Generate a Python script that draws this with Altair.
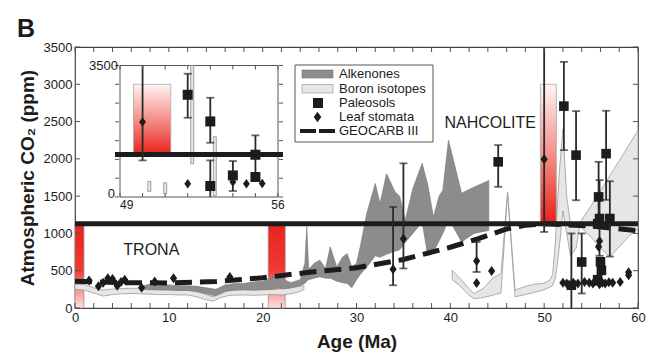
import altair as alt
import pandas as pd

W, H = 563, 261
FONT = "Liberation Sans"
INK = "#1c1c1c"

# ---------------- data ----------------
x_tick_vals = list(range(0, 61, 2))
y_tick_vals = list(range(0, 3501, 500))
x_label_vals = [0, 10, 20, 30, 40, 50, 60]
y_label_vals = [0, 500, 1000, 1500, 2000, 2500, 3000, 3500]

threshold = [1130]

# red boxes
trona_a0 = [0.0, 20.6]
trona_a1 = [0.95, 22.4]
trona_lo = [0, 0]
trona_hi = [1130, 1130]
nah_a0 = [49.6]
nah_a1 = [51.3]
nah_lo = [1130]
nah_hi = [3000]

# alkenones band
alk_age = [7.0, 8.0, 9.0, 10.0, 11.0, 12.0, 13.0, 14.0, 15.0, 16.0, 17.0, 18.0, 19.0, 20.0,
           21.0, 21.6, 22.3, 23.0, 24.0, 24.5, 24.7, 24.9, 25.5, 26.1, 26.7, 27.2, 27.9, 28.5,
           29.0, 29.5, 30.0, 30.4, 31.1, 32.0, 32.5, 33.2, 34.1, 34.6, 35.2, 36.0, 37.0, 37.6,
           38.2, 38.8, 39.2, 39.8, 40.3, 41.2, 42.5, 44.1]
alk_lo = [250, 245, 240, 240, 235, 235, 220, 190, 160, 220, 240, 245, 240, 245,
          250, 270, 260, 270, 300, 330, 360, 380, 400, 420, 400, 400, 360, 340,
          330, 270, 380, 450, 550, 700, 680, 720, 760, 780, 880, 1000, 1150, 700,
          750, 900, 1000, 1180, 1090, 885, 1000, 1040]
alk_hi = [290, 320, 300, 310, 300, 300, 290, 270, 250, 310, 330, 330, 350, 360,
          400, 470, 380, 340, 380, 600, 1090, 520, 600, 640, 530, 820, 550, 680,
          730, 550, 600, 820, 1270, 1670, 1400, 1800, 1560, 1500, 1180, 1600, 1940, 1650,
          1220, 1500, 1580, 2250, 2000, 1540, 1620, 1710]

# boron isotopes bands (two pieces)
bor_seg = ["a"] * 26 + ["b"] * 27
bor_age = [0, 1, 2, 3, 4, 5, 6, 7, 8, 9, 10, 11, 12, 13, 14, 14.7, 15.5, 16.5, 18, 19, 20, 21, 22, 23, 24, 24.4,
           40.2, 41, 42, 42.5, 43.5, 44.5, 45.4, 46.1, 46.9, 48, 49, 49.9, 50.6, 50.9, 51.2, 51.6, 52.0, 52.4,
           52.8, 53.4, 53.8, 55.0, 56.0, 57.0, 58.0, 59.0, 60.0]
bor_lo = [250, 240, 200, 160, 180, 190, 195, 190, 185, 180, 180, 175, 175, 150, 110, 90, 140, 170, 175, 170, 175, 180, 175, 190, 220, 250,
          380, 300, 170, 125, 140, 170, 200, 1540, 150, 180, 210, 240, 280, 300, 400, 800, 1300, 1000,
          700, 800, 1100, 950, 800, 685, 820, 960, 1060]
bor_hi = [320, 315, 270, 240, 255, 260, 265, 265, 255, 250, 245, 240, 240, 220, 180, 150, 210, 240, 245, 240, 245, 250, 255, 270, 290, 300,
          505, 400, 260, 193, 260, 400, 460, 1557, 240, 290, 320, 330, 372, 450, 900, 1800, 2400, 1500,
          1130, 1130, 1140, 1370, 1570, 1775, 1975, 2180, 2380]

# GEOCARB III
geo_age = [0, 5, 10, 15, 20, 25, 30, 35, 40, 43, 46, 48, 50, 55, 60]
geo_co2 = [360, 340, 335, 355, 405, 480, 540, 650, 815, 930, 1060, 1110, 1130, 1100, 1035]

# paleosols
pal_age = [45.1, 52.1, 53.4, 52.9, 54.0, 55.8, 55.9, 55.7, 56.0, 56.1, 55.7, 56.6, 57.0]
pal_co2 = [1960, 2707, 2050, 305, 617, 1490, 1200, 1130, 620, 505, 380, 2070, 1200]

# leaf stomata
sto_age = [1.5, 2.5, 3.0, 3.5, 4.0, 4.5, 4.9, 5.3, 7.1, 8.5, 10.5, 16.5,
           33.9, 35.0, 42.8, 42.8, 44.4, 50.0,
           52.0, 52.4, 53.1, 53.6, 54.3, 54.8, 55.2, 55.5, 55.9, 56.2, 56.5, 56.9, 57.3, 58.1, 59.0, 59.0,
           55.8, 55.9]
sto_co2 = [370, 290, 340, 400, 390, 300, 350, 380, 270, 355, 400, 415,
           520, 930, 630, 335, 497, 1995,
           340, 330, 340, 330, 350, 340, 330, 360, 320, 340, 330, 345, 340, 350, 440, 480,
           820, 900]

# error bars (age, low, high)
err_age = [45.1, 52.1, 53.4, 52.9, 54.0, 55.8, 55.9, 56.6, 57.0, 33.9, 35.0, 42.8, 50.0]
err_lo = [1625, 2117, 1445, 0, 195, 1130, 700, 1450, 690, 305, 530, 483, 1020]
err_hi = [2185, 3300, 2640, 1000, 1000, 1960, 1715, 2645, 1700, 1355, 1940, 885, 3500]

# labels
trona_pos = (5.15, 784)
nah_pos = (39.37, 2475)

# ---------- inset data ----------
ins_x_ticks = [49, 50, 51, 52, 53, 54, 55, 56]
ins_y_ticks = [0, 500, 1000, 1500, 2000, 2500, 3000, 3500]
ins_red_a0 = [49.6]
ins_red_a1 = [51.25]
ins_red_lo = [1130]
ins_red_hi = [3000]
ins_bor_age = [50.3, 51.0, 52.2, 53.2]
ins_bor_lo = [150, 90, 886, 35]
ins_bor_hi = [415, 380, 3500, 1604]
ins_pal_age = [52.0, 53.0, 53.0, 54.0, 55.0, 55.0]
ins_pal_co2 = [2721, 2011, 293, 575, 1125, 532]
ins_sto_age = [50.0, 52.0, 54.0, 54.6, 55.3]
ins_sto_co2 = [1995, 354, 400, 354, 360]
ins_err_age = [50.0, 52.0, 53.0, 53.0, 54.0, 55.0]
ins_err_lo = [974, 2109, 1444, 0, 160, 600]
ins_err_hi = [3500, 3280, 2641, 974, 957, 1640]

legend_labels = ["Alkenones", "Boron isotopes", "Paleosols", "Leaf stomata", "GEOCARB III"]

# ---------------- scales / axes ----------------
xs = alt.Scale(domain=[0, 60], nice=False, zero=False)
ys = alt.Scale(domain=[0, 3500], nice=False, zero=False)
ixs = alt.Scale(domain=[49, 56], range=[40, 208], nice=False, zero=False)
iys = alt.Scale(domain=[0, 3500], range=[150, 18.5], nice=False, zero=False)

AX = alt.Axis(
    orient="bottom", values=x_label_vals, format="d", ticks=False, domain=False, grid=False,
    labelFlush=False, labelFont=FONT, labelFontSize=13, labelColor=INK, labelPadding=3,
    title="Age (Ma)", titleFont=FONT, titleFontSize=19, titleFontWeight="bold",
    titleColor=INK, titlePadding=8)
AY = alt.Axis(
    orient="left", values=y_label_vals, format="d", ticks=False, domain=False, grid=False,
    labelFlush=False, labelFont=FONT, labelFontSize=13, labelColor=INK, labelPadding=3,
    title="Atmospheric CO₂ (ppm)", titleFont=FONT, titleFontSize=19,
    titleFontWeight="bold", titleColor=INK, titlePadding=6)

DIAMOND = "M0,-1L0.72,0L0,1L-0.72,0Z"


def grad(c_top, c_mid, c_bot, mid=0.55):
    return alt.LinearGradient(
        gradient="linear", x1=0, x2=0, y1=0, y2=1,
        stops=[alt.GradientStop(offset=0, color=c_top),
               alt.GradientStop(offset=mid, color=c_mid),
               alt.GradientStop(offset=1, color=c_bot)])


def X(f):
    return alt.X(f, type="quantitative", scale=xs, axis=AX)


def Y(f):
    return alt.Y(f, type="quantitative", scale=ys, axis=AY)


def IX(f):
    return alt.X(f, type="quantitative", scale=ixs, axis=None)


def IY(f):
    return alt.Y(f, type="quantitative", scale=iys, axis=None)


# ---------------- main layers ----------------
df_trona = pd.DataFrame({"a0": trona_a0, "a1": trona_a1, "lo": trona_lo, "hi": trona_hi})
trona = alt.Chart(df_trona).mark_rect(
    fill=grad("#e8231d", "#ee3b33", "#fbe3e3"), stroke="#9a8080", strokeWidth=0.7
).encode(x=X("a0"), x2="a1:Q", y=Y("lo"), y2="hi:Q")

df_nah = pd.DataFrame({"a0": nah_a0, "a1": nah_a1, "lo": nah_lo, "hi": nah_hi})
nah = alt.Chart(df_nah).mark_rect(
    fill=grad("#fff4f4", "#f27a72", "#e8201a", mid=0.6), stroke="#aaaaaa", strokeWidth=0.8
).encode(x=X("a0"), x2="a1:Q", y=Y("lo"), y2="hi:Q")

df_bor = pd.DataFrame({"seg": bor_seg, "a": bor_age, "lo": bor_lo, "hi": bor_hi})
boron = alt.Chart(df_bor).mark_area(
    fill="#e6e6e6", stroke="#9c9c9c", strokeWidth=0.8, opacity=1
).encode(x=X("a"), y=Y("lo"), y2="hi:Q", detail="seg:N")

df_alk = pd.DataFrame({"a": alk_age, "lo": alk_lo, "hi": alk_hi})
alk = alt.Chart(df_alk).mark_area(
    fill="#8c8c8c", stroke="#747474", strokeWidth=0.6, opacity=1
).encode(x=X("a"), y=Y("lo"), y2="hi:Q")

df_thr = pd.DataFrame({"v": threshold})
thr = alt.Chart(df_thr).mark_rule(color=INK, strokeWidth=5).encode(y=Y("v"))

df_geo = pd.DataFrame({"a": geo_age, "v": geo_co2})
geo = alt.Chart(df_geo).mark_line(
    color=INK, strokeWidth=5, strokeDash=[17, 8]
).encode(x=X("a"), y=Y("v"))

df_err = pd.DataFrame({"a": err_age, "lo": err_lo, "hi": err_hi})
err = alt.Chart(df_err).mark_rule(color="#2a2a2a", strokeWidth=1.8).encode(
    x=X("a"), y=Y("lo"), y2="hi:Q")
caps_a = [a for a, v in zip(err_age + err_age, err_lo + err_hi) if 0 < v < 3500]
caps_v = [v for v in err_lo + err_hi if 0 < v < 3500]
df_caps = pd.DataFrame({"a": caps_a, "v": caps_v})
caps = alt.Chart(df_caps).mark_tick(
    orient="horizontal", size=8, thickness=1.8, color="#2a2a2a"
).encode(x=X("a"), y=Y("v"))

df_pal = pd.DataFrame({"a": pal_age, "v": pal_co2})
pal = alt.Chart(df_pal).mark_square(size=92, color=INK, opacity=1).encode(x=X("a"), y=Y("v"))

df_sto = pd.DataFrame({"a": sto_age, "v": sto_co2})
sto = alt.Chart(df_sto).mark_point(
    shape=DIAMOND, size=100, filled=True, color=INK, opacity=1
).encode(x=X("a"), y=Y("v"))

df_lbl = pd.DataFrame({"a": [trona_pos[0], nah_pos[0]], "v": [trona_pos[1], nah_pos[1]],
                       "t": ["TRONA", "NAHCOLITE"]})
lbl = alt.Chart(df_lbl).mark_text(
    font=FONT, fontSize=16, align="left", baseline="middle", color=INK
).encode(x=X("a"), y=Y("v"), text="t:N")

# inward ticks on the four sides
df_xt = pd.DataFrame({"v": x_tick_vals})
df_yt = pd.DataFrame({"v": y_tick_vals})
tick_style = dict(color="#555555", strokeWidth=1)
xt_b = alt.Chart(df_xt).mark_rule(**tick_style).encode(x=X("v"), y=alt.value(H), y2=alt.value(H - 5))
xt_t = alt.Chart(df_xt).mark_rule(**tick_style).encode(x=X("v"), y=alt.value(0), y2=alt.value(5))
yt_l = alt.Chart(df_yt).mark_rule(**tick_style).encode(y=Y("v"), x=alt.value(0), x2=alt.value(5))
yt_r = alt.Chart(df_yt).mark_rule(**tick_style).encode(y=Y("v"), x=alt.value(W), x2=alt.value(W - 5))

main = alt.layer(trona, nah, boron, alk, thr, geo, err, caps, pal, sto, lbl,
                 xt_b, xt_t, yt_l, yt_r)

# ---------------- inset ----------------
df_iframe = pd.DataFrame({"a0": [49], "a1": [56], "lo": [0], "hi": [3500]})
iframe = alt.Chart(df_iframe).mark_rect(fill="white", stroke="#555555", strokeWidth=1).encode(
    x=IX("a0"), x2="a1:Q", y=IY("lo"), y2="hi:Q")

df_ired = pd.DataFrame({"a0": ins_red_a0, "a1": ins_red_a1, "lo": ins_red_lo, "hi": ins_red_hi})
ired = alt.Chart(df_ired).mark_rect(
    fill=grad("#fff4f4", "#f27a72", "#e8201a", mid=0.6), stroke="#aaaaaa", strokeWidth=0.8
).encode(x=IX("a0"), x2="a1:Q", y=IY("lo"), y2="hi:Q")

df_ibor = pd.DataFrame({"a": ins_bor_age, "lo": ins_bor_lo, "hi": ins_bor_hi})
ibor = alt.Chart(df_ibor).mark_bar(size=3, fill="#e8e8e8", stroke="#8a8a8a", strokeWidth=0.8).encode(
    x=IX("a"), y=IY("lo"), y2="hi:Q")

ithr = alt.Chart(df_thr).mark_rule(color=INK, strokeWidth=5).encode(
    y=IY("v"), x=alt.value(40), x2=alt.value(208))

df_ierr = pd.DataFrame({"a": ins_err_age, "lo": ins_err_lo, "hi": ins_err_hi})
ierr = alt.Chart(df_ierr).mark_rule(color="#2a2a2a", strokeWidth=1.8).encode(
    x=IX("a"), y=IY("lo"), y2="hi:Q")
icaps_a = [a for a, v in zip(ins_err_age + ins_err_age, ins_err_lo + ins_err_hi) if 0 < v < 3500]
icaps_v = [v for v in ins_err_lo + ins_err_hi if 0 < v < 3500]
df_icaps = pd.DataFrame({"a": icaps_a, "v": icaps_v})
icaps = alt.Chart(df_icaps).mark_tick(
    orient="horizontal", size=8, thickness=1.8, color="#2a2a2a"
).encode(x=IX("a"), y=IY("v"))

df_ipal = pd.DataFrame({"a": ins_pal_age, "v": ins_pal_co2})
ipal = alt.Chart(df_ipal).mark_square(size=100, color=INK, opacity=1).encode(x=IX("a"), y=IY("v"))
df_isto = pd.DataFrame({"a": ins_sto_age, "v": ins_sto_co2})
isto = alt.Chart(df_isto).mark_point(
    shape=DIAMOND, size=90, filled=True, color=INK, opacity=1
).encode(x=IX("a"), y=IY("v"))

df_ixt = pd.DataFrame({"v": ins_x_ticks})
df_iyt = pd.DataFrame({"v": ins_y_ticks})
ixt_b = alt.Chart(df_ixt).mark_rule(**tick_style).encode(x=IX("v"), y=alt.value(150), y2=alt.value(146))
ixt_t = alt.Chart(df_ixt).mark_rule(**tick_style).encode(x=IX("v"), y=alt.value(18.5), y2=alt.value(22.5))
iyt_l = alt.Chart(df_iyt).mark_rule(**tick_style).encode(y=IY("v"), x=alt.value(40), x2=alt.value(44))
iyt_r = alt.Chart(df_iyt).mark_rule(**tick_style).encode(y=IY("v"), x=alt.value(208), x2=alt.value(204))

df_iyl = pd.DataFrame({"a": [49, 49], "v": [0, 3500], "t": ["0", "3500"]})
iyl0 = alt.Chart(df_iyl.iloc[[0]]).mark_text(
    font=FONT, fontSize=13, align="right", baseline="middle", dx=-5, dy=-3, color=INK
).encode(x=IX("a"), y=IY("v"), text="t:N")
iyl1 = alt.Chart(df_iyl.iloc[[1]]).mark_text(
    font=FONT, fontSize=13, align="right", baseline="middle", dx=-2, color=INK
).encode(x=IX("a"), y=IY("v"), text="t:N")
df_ixl = pd.DataFrame({"a": [49, 56], "v": [0, 0], "t": ["49", "56"]})
ixl49 = alt.Chart(df_ixl.iloc[[0]]).mark_text(
    font=FONT, fontSize=12, align="left", baseline="top", dx=0, dy=3, color=INK
).encode(x=IX("a"), y=IY("v"), text="t:N")
ixl56 = alt.Chart(df_ixl.iloc[[1]]).mark_text(
    font=FONT, fontSize=12, align="center", baseline="top", dy=3, color=INK
).encode(x=IX("a"), y=IY("v"), text="t:N")

inset = alt.layer(iframe, ired, ibor, ithr, ierr, icaps, ipal, isto,
                  ixt_b, ixt_t, iyt_l, iyt_r, iyl0, iyl1, ixl49, ixl56)

# ---------------- legend (drawn in plot pixels) ----------------
one = pd.DataFrame({"k": [0]})
leg_box = alt.Chart(one).mark_rect(fill="white", stroke="#555555", strokeWidth=1).encode(
    x=alt.value(220), x2=alt.value(358), y=alt.value(18), y2=alt.value(95))
leg_alk = alt.Chart(one).mark_rect(fill="#8c8c8c", stroke="#747474", strokeWidth=0.6).encode(
    x=alt.value(227), x2=alt.value(258), y=alt.value(23), y2=alt.value(31))
leg_bor = alt.Chart(one).mark_rect(fill="#e6e6e6", stroke="#a8a8a8", strokeWidth=0.8).encode(
    x=alt.value(227), x2=alt.value(258), y=alt.value(37.5), y2=alt.value(46))
leg_pal = alt.Chart(one).mark_square(size=100, color=INK, opacity=1).encode(
    x=alt.value(243), y=alt.value(56))
leg_sto = alt.Chart(one).mark_point(shape=DIAMOND, size=110, filled=True, color=INK, opacity=1).encode(
    x=alt.value(242.5), y=alt.value(70))
leg_geo = alt.Chart(one).mark_rule(color=INK, strokeWidth=4, strokeDash=[16, 3]).encode(
    x=alt.value(225), x2=alt.value(260), y=alt.value(84))
leg_y = [27, 41.5, 56, 70, 84]
leg_txt = [alt.Chart(one).mark_text(
    font=FONT, fontSize=13, align="left", baseline="middle", color=INK, text=t
).encode(x=alt.value(264), y=alt.value(yy)) for t, yy in zip(legend_labels, leg_y)]

panel_b = alt.Chart(one).mark_text(
    font=FONT, fontSize=25, fontWeight="bold", align="left", baseline="alphabetic",
    color=INK, text="B"
).encode(x=alt.value(-58), y=alt.value(-10))

legend = alt.layer(leg_box, leg_alk, leg_bor, leg_pal, leg_sto, leg_geo, *leg_txt, panel_b)

chart = alt.layer(main, inset, legend).resolve_scale(
    x="independent", y="independent"
).properties(
    width=W, height=H,
    autosize=alt.AutoSizeParams(type="none"),
    padding={"left": 67, "top": 39, "right": 14, "bottom": 46},
).configure_view(stroke="#444444", strokeWidth=1.2)

chart.save("out.html", embed_options={"renderer": "svg", "actions": False})
